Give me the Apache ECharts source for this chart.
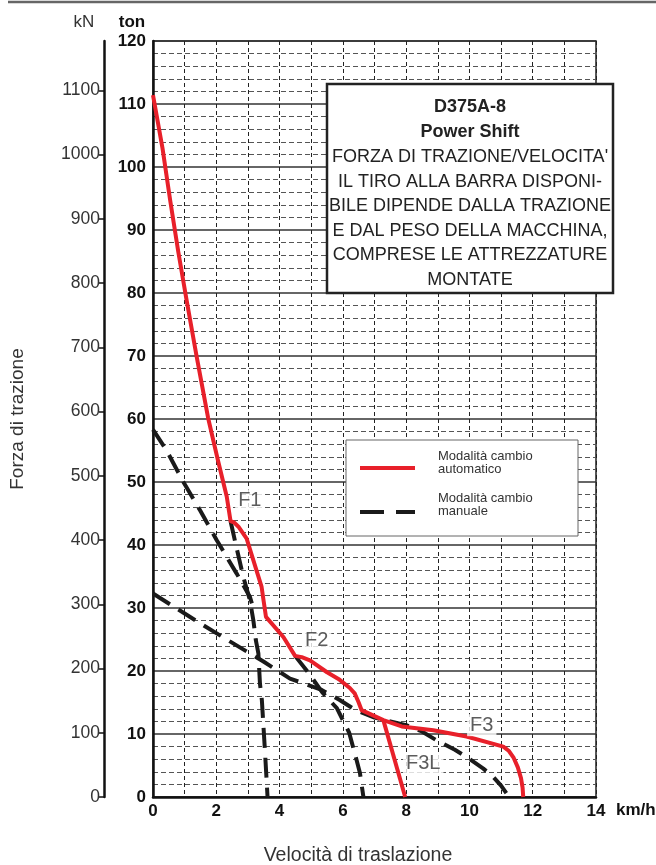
<!DOCTYPE html>
<html>
<head>
<meta charset="utf-8">
<script src="https://cdn.jsdelivr.net/npm/echarts@6/dist/echarts.min.js"></script>
<style>
html, body { margin: 0; padding: 0; background: #fff; }
#chart { width: 656px; height: 865px; }
</style>
</head>
<body>
<div id="chart"></div>
<script>
// ton -> kN
const TON_TO_KN = 9.80665
const kNTicks = [0, 100, 200, 300, 400, 500, 600, 700, 800, 900, 1000, 1100]

// [km/h, ton]
const autoMain = [
    [0, 111.4], [0.3, 103], [0.54, 94.8], [0.8, 86.5], [1.06, 78.9], [1.38, 69.9], [1.74, 60.2],
    [2.05, 53.5], [2.33, 47.7], [2.45, 43.8], [2.56, 43.6], [2.7, 42.9],
    [2.96, 41.0], [3.3, 35.5], [3.43, 33.4], [3.5, 31.0], [3.57, 28.6],
    [4.12, 25.4], [4.49, 22.4], [4.7, 22.2], [4.96, 21.7], [5.5, 19.8], [5.9, 18.6], [6.22, 17.3], [6.38, 16.4],
    [6.5, 15.0], [6.59, 13.8], [7.28, 12.2], [7.86, 11.2], [8.86, 10.6], [9.91, 9.6], [11.07, 8.0],
    [11.25, 7.3], [11.4, 6.2], [11.53, 4.7], [11.63, 3.0], [11.68, 1.5], [11.7, 0]
]
const autoF3L = [[7.28, 12.2], [7.97, 0]]

const manF1a = [[0, 58.3], [0.43, 55], [0.96, 50], [1.5, 45.4], [2.01, 40.8], [2.64, 35.5], [3.06, 31.8], [3.2, 29.5]]
const manF1b = [[2.45, 43.8], [2.62, 40], [2.85, 35], [3.06, 31.3], [3.17, 28.1], [3.25, 24.9], [3.33, 22.8],
    [3.38, 18], [3.44, 15.4], [3.53, 8], [3.62, 0]]
const manF2 = [[0, 32.3], [1.48, 27.6], [2.43, 24.7], [3.49, 21.5], [4.33, 18.8], [5.33, 17.0], [5.9, 15.4],
    [6.4, 13.8], [7.0, 12.6], [8.0, 11.4], [8.5, 10.4], [8.96, 9.0], [9.54, 7.5], [9.9, 6.4],
    [10.44, 4.5], [10.75, 3.2], [11.0, 1.8], [11.25, 0]]
const manF2b = [[4.49, 22.4], [4.96, 19.4], [5.35, 16.6], [5.81, 14.1], [6.2, 10.2], [6.4, 6.5], [6.54, 3.8], [6.65, 0]]

const gearLabels = [
    { name: 'F1', value: [3.06, 47.1] },
    { name: 'F2', value: [5.17, 24.9] },
    { name: 'F3', value: [10.39, 11.4] },
    { name: 'F3L', value: [8.54, 5.35] }
]

const boxLines = [
    'FORZA DI TRAZIONE/VELOCITA\'',
    'IL TIRO ALLA BARRA DISPONI-',
    'BILE DIPENDE DALLA TRAZIONE',
    'E DAL PESO DELLA MACCHINA,',
    'COMPRESE LE ATTREZZATURE',
    'MONTATE'
]

const FONT = '"Liberation Sans", Arial, Helvetica, sans-serif'
const RED = '#e8202a'
const BLACK = '#1a1a1a'

const chart = echarts.init(document.getElementById('chart'))

function redLine(data) {
    return {
        type: 'line', data: data, symbol: 'none', z: 5,
        lineStyle: { color: RED, width: 4, join: 'round' }
    }
}
function dashLine(data) {
    return {
        type: 'line', data: data, symbol: 'none', z: 4,
        lineStyle: { color: BLACK, width: 4, type: [20, 10], cap: 'butt' }
    }
}

const boxText = boxLines.map((t, i) => ({
    type: 'text', x: 470, y: 157 + i * 24.6, z: 101,
    style: { text: t, fill: '#222', font: '18px ' + FONT, textAlign: 'center', textVerticalAlign: 'middle' }
}))

chart.setOption({
    animation: false,
    backgroundColor: '#fff',
    grid: {
        left: 153, top: 41, width: 443, height: 756,
        show: true, borderColor: '#222', borderWidth: 1.5
    },
    xAxis: {
        type: 'value', min: 0, max: 14, interval: 1,
        axisLine: { lineStyle: { color: '#111', width: 2.5 } },
        axisTick: { show: false },
        axisLabel: {
            formatter: v => (v % 2 === 0 ? String(v) : ''),
            color: '#111', fontSize: 17, fontWeight: 'bold', fontFamily: FONT, margin: 6
        },
        splitLine: { lineStyle: { color: '#222', width: 1, type: [4, 3] } }
    },
    yAxis: [
        {
            type: 'value', min: 0, max: 120, interval: 10,
            axisLine: { show: true, lineStyle: { color: '#111', width: 2.5 } },
            axisTick: { show: false },
            axisLabel: { color: '#111', fontSize: 17, fontWeight: 'bold', fontFamily: FONT, margin: 7 },
            splitLine: { lineStyle: { color: '#333', width: 1.5 } },
            minorTick: { show: false, splitNumber: 5 },
            minorSplitLine: { show: true, lineStyle: { color: '#555', width: 1.2, type: [5, 3] } }
        },
        {
            type: 'value', position: 'left', offset: 49,
            min: 0, max: 120 * TON_TO_KN, interval: 100,
            axisLine: { show: true, lineStyle: { color: '#111', width: 2.5 } },
            axisTick: { show: true, length: 5, lineStyle: { color: '#111', width: 1.5 }, customValues: kNTicks },
            axisLabel: {
                customValues: kNTicks,
                formatter: v => (v % 100 === 0 ? String(v) : ''),
                color: '#333', fontSize: 17.5, fontFamily: FONT, margin: 4
            },
            splitLine: { show: false },
            name: 'Forza di trazione', nameLocation: 'middle', nameGap: 77, nameRotate: 90,
            nameTextStyle: { color: '#333', fontSize: 19, fontFamily: FONT }
        }
    ],
    series: [
        dashLine(manF1a),
        dashLine(manF1b),
        dashLine(manF2),
        dashLine(manF2b),
        redLine(autoMain),
        redLine(autoF3L),
        {
            type: 'scatter', data: gearLabels, symbolSize: 1, z: 6,
            itemStyle: { color: 'rgba(0,0,0,0)' },
            label: {
                show: true, position: 'inside', formatter: p => p.name,
                color: '#333', fontSize: 20, fontFamily: FONT,
                backgroundColor: '#fff', padding: [1, 3]
            }
        }
    ],
    graphic: [
        { type: 'line', z: 50, shape: { x1: 8, y1: 2, x2: 656, y2: 2 }, style: { stroke: '#666', lineWidth: 2.5 } },
        { type: 'text', x: 84, y: 22, style: { text: 'kN', fill: '#333', font: '17px ' + FONT, textAlign: 'center', textVerticalAlign: 'middle' } },
        { type: 'text', x: 132, y: 22, style: { text: 'ton', fill: '#111', font: 'bold 17px ' + FONT, textAlign: 'center', textVerticalAlign: 'middle' } },
        { type: 'text', x: 616, y: 810, style: { text: 'km/h', fill: '#111', font: 'bold 17px ' + FONT, textAlign: 'left', textVerticalAlign: 'middle' } },
        { type: 'text', x: 358, y: 856, style: { text: 'Velocità di traslazione', fill: '#333', font: '19.5px ' + FONT, textAlign: 'center', textVerticalAlign: 'middle' } },
        // information box
        { type: 'rect', z: 100, shape: { x: 327, y: 84, width: 286, height: 209 }, style: { fill: '#fff', stroke: '#222', lineWidth: 2.5 } },
        { type: 'text', x: 470, y: 107, z: 101, style: { text: 'D375A-8', fill: '#222', font: 'bold 18px ' + FONT, textAlign: 'center', textVerticalAlign: 'middle' } },
        { type: 'text', x: 470, y: 132, z: 101, style: { text: 'Power Shift', fill: '#222', font: 'bold 18px ' + FONT, textAlign: 'center', textVerticalAlign: 'middle' } },
        ...boxText,
        // legend
        { type: 'rect', z: 100, shape: { x: 346, y: 440, width: 232, height: 96 }, style: { fill: '#fff', stroke: '#666', lineWidth: 1 } },
        { type: 'line', z: 101, shape: { x1: 360, y1: 468, x2: 415, y2: 468 }, style: { stroke: RED, lineWidth: 4 } },
        { type: 'line', z: 101, shape: { x1: 360, y1: 512, x2: 415, y2: 512 }, style: { stroke: BLACK, lineWidth: 4, lineDash: [24, 12] } },
        { type: 'text', x: 438, y: 456, z: 101, style: { text: 'Modalità cambio', fill: '#333', font: '13px ' + FONT, textVerticalAlign: 'middle' } },
        { type: 'text', x: 438, y: 469, z: 101, style: { text: 'automatico', fill: '#333', font: '13px ' + FONT, textVerticalAlign: 'middle' } },
        { type: 'text', x: 438, y: 498, z: 101, style: { text: 'Modalità cambio', fill: '#333', font: '13px ' + FONT, textVerticalAlign: 'middle' } },
        { type: 'text', x: 438, y: 511, z: 101, style: { text: 'manuale', fill: '#333', font: '13px ' + FONT, textVerticalAlign: 'middle' } }
    ]
})
</script>
</body>
</html>
